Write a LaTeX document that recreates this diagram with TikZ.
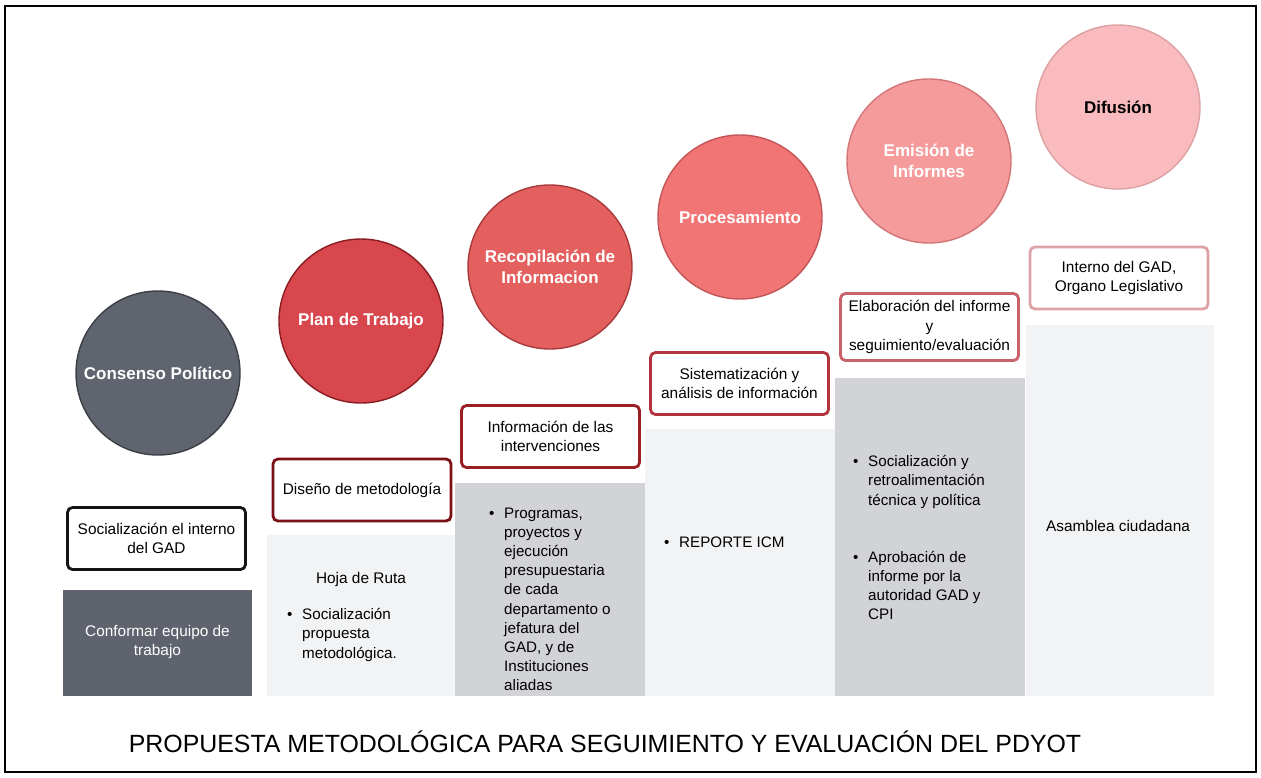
\documentclass[tikz,border=0pt]{standalone}
\usepackage{fontspec}
\setmainfont{Liberation Sans}
\definecolor{cAf}{HTML}{5F646E}\definecolor{cAd}{HTML}{3C3F46}
\definecolor{cBf}{HTML}{D9474E}\definecolor{cBd}{HTML}{8A1C22}
\definecolor{cCf}{HTML}{E3605F}\definecolor{cCd}{HTML}{A83A3C}
\definecolor{cDf}{HTML}{F27575}\definecolor{cDd}{HTML}{C25556}
\definecolor{cEf}{HTML}{F59B9C}\definecolor{cEd}{HTML}{D27577}
\definecolor{cFf}{HTML}{FABBBE}\definecolor{cFd}{HTML}{DDA0A3}
\definecolor{bA}{HTML}{141414}\definecolor{bB}{HTML}{7B1016}
\definecolor{bC}{HTML}{9A1F25}\definecolor{bD}{HTML}{B3343D}
\definecolor{bE}{HTML}{C9626A}\definecolor{bF}{HTML}{DDA1A6}
\definecolor{panelLight}{HTML}{F2F3F5}
\definecolor{panelGray}{HTML}{D2D3D6}
\definecolor{panelDark}{HTML}{5E636D}
\newcommand\bulitem[2]{\makebox[15pt][l]{\textbullet}\parbox[t]{#1}{\raggedright #2}}
\begin{document}
\begin{tikzpicture}[x=1pt,y=-1pt,
  circ/.style={circle,minimum size=164pt,inner sep=0pt,line width=1.4pt,
    font=\fontsize{17}{20.5}\selectfont\bfseries,text=white,align=center},
  stagebox/.style={rounded corners=5pt,line width=2.8pt,fill=white,
    minimum width=178pt,minimum height=62pt,inner sep=0pt,align=center,
    font=\fontsize{15.4}{19.5}\selectfont},
  panel/.style={draw=none,inner sep=0pt,anchor=north west},
  body/.style={font=\fontsize{15.4}{19.5}\selectfont,inner sep=0pt},
  bodyb/.style={font=\fontsize{15.2}{19.2}\selectfont,inner sep=0pt,anchor=base west}]
\useasboundingbox (0,0) rectangle (1261,777);
\fill[white] (0,0) rectangle (1261,777);
\draw[line width=1.3pt] (5,6) rectangle (1256,772);

% panels
\node[panel,fill=panelDark,minimum width=189pt,minimum height=106pt] (r1) at (63,590) {};
\node[body,text=white,align=center] (t1) at (157.5,642) {Conformar equipo de\\trabajo};
\node[panel,fill=panelLight,minimum width=188pt,minimum height=161pt] (r2) at (267,535) {};
\node[panel,fill=panelGray,minimum width=190pt,minimum height=213pt] (r3) at (455,483) {};
\node[panel,fill=panelLight,minimum width=190pt,minimum height=267pt] (r4) at (645,429) {};
\node[panel,fill=panelGray,minimum width=190pt,minimum height=318pt] (r5) at (835,378) {};
\node[panel,fill=panelLight,minimum width=188pt,minimum height=371pt] (r6) at (1026,325) {};

% circles
\node[circ,fill=cAf,draw=cAd] (c1) at (158,373) {Consenso Político};
\node[circ,fill=cBf,draw=cBd] (c2) at (361,321) {Plan de Trabajo};
\node[circ,fill=cCf,draw=cCd] (c3) at (550,267) {Recopilación de\\Informacion};
\node[circ,fill=cDf,draw=cDd] (c4) at (740,217) {Procesamiento};
\node[circ,fill=cEf,draw=cEd] (c5) at (929,161) {Emisión de\\Informes};
\node[circ,fill=cFf,draw=cFd,text=black] (c6) at (1118,107) {Difusión};

% stage boxes
\node[stagebox,draw=bA] (b1) at (156.5,538.5) {Socialización el interno\\del GAD};
\node[stagebox,draw=bB] (b2) at (362,490) {Diseño de metodología};
\node[stagebox,draw=bC] (b3) at (550.5,436.5) {Información de las\\intervenciones};
\node[stagebox,draw=bD] (b4) at (739.5,383.5) {Sistematización y\\análisis de información};
\node[stagebox,draw=bE,minimum height=67pt] (b5) at (929.5,327) {Elaboración del informe\\y\\seguimiento/evaluación};
\node[stagebox,draw=bF] (b6) at (1119,278) {Interno del GAD,\\Organo Legislativo};

% panel contents
\node[body] (h2) at (361,580) {Hoja de Ruta};
\node[bodyb,font=\fontsize{15.2}{19.5}\selectfont] (l2) at (287,619) {\bulitem{140pt}{Socialización\\propuesta\\metodológica.}};
\node[bodyb] (l3) at (489,518) {\bulitem{130pt}{Programas,\\proyectos y\\ejecución\\presupuestaria\\de cada\\departamento o\\jefatura del\\GAD, y de\\Instituciones\\aliadas}};
\node[bodyb] (l4) at (664,547) {\bulitem{140pt}{REPORTE ICM}};
\node[bodyb,font=\fontsize{15.2}{19.5}\selectfont] (l5a) at (853,466) {\bulitem{150pt}{Socialización y\\retroalimentación\\técnica y política}};
\node[bodyb] (l5b) at (853,562) {\bulitem{150pt}{Aprobación de\\informe por la\\autoridad GAD y\\CPI}};
\node[body] (h6) at (1118,526) {Asamblea ciudadana};

% title
\node[inner sep=0pt,font=\fontsize{24.9}{28}\selectfont] (title) at (605,742)
  {PROPUESTA METODOLÓGICA PARA SEGUIMIENTO Y EVALUACIÓN DEL PDYOT};
\end{tikzpicture}
\end{document}
